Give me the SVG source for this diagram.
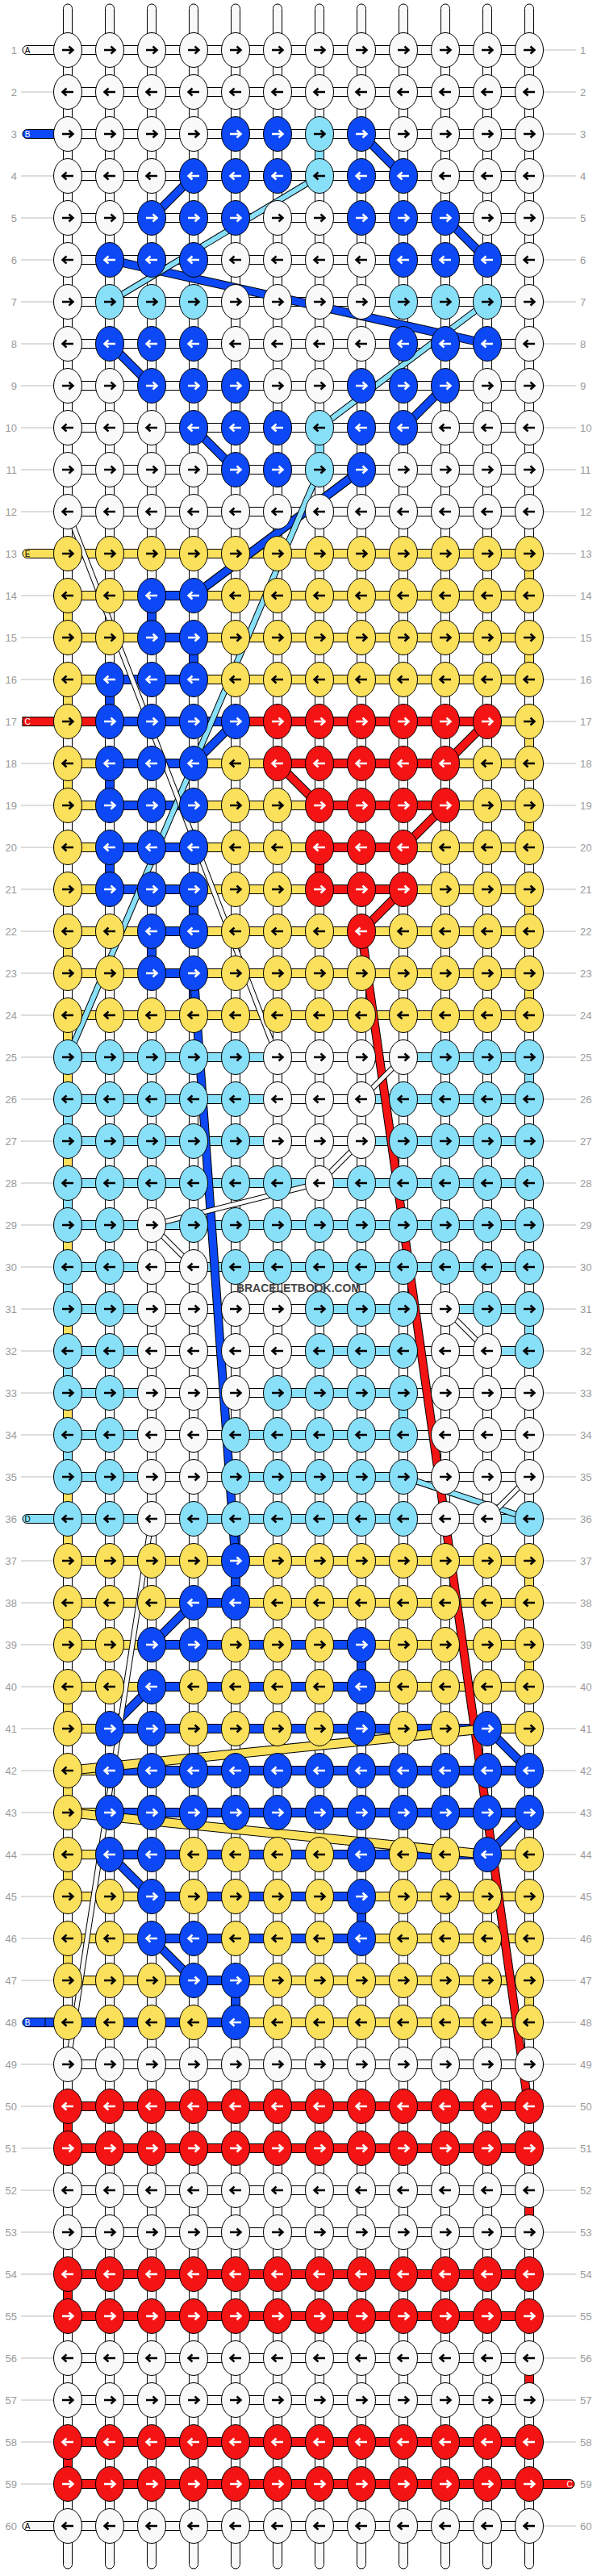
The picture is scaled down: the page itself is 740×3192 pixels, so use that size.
<svg xmlns="http://www.w3.org/2000/svg" width="740" height="3192" viewBox="0 0 740 3192">
<defs>
<style>
.W{fill:#f9f9f9}.B{fill:#0c48f5}.L{fill:#88dff8}.Y{fill:#fbe05c}.R{fill:#f41414}
.arr{fill:none;stroke-width:2.5}
.num{font-family:"Liberation Sans",Arial,sans-serif;font-size:13px;fill:#9a9a9a}
.gl{stroke:#bbb;stroke-width:1;fill:none}
.cap{font-family:"Liberation Sans",Arial,sans-serif;font-size:10px;text-anchor:middle}
.ln{fill:none;stroke-linecap:butt}
</style>
<path id="ar" class="arr" d="M-7,0H6M1.5,-4.5L6.5,0L1.5,4.5"/>
<path id="al" class="arr" d="M7,0H-6M-1.5,-4.5L-6.5,0L-1.5,4.5"/>
<ellipse id="e" rx="17.5" ry="21.5" stroke="#000" stroke-width="1"/>
<rect id="full" x="84" y="-5.5" width="572" height="11" stroke="#000" stroke-width="1"/>
<g id="Wr"><use href="#e" class="W"/><use href="#ar" stroke="#000"/></g>
<g id="Wl"><use href="#e" class="W"/><use href="#al" stroke="#000"/></g>
<g id="Br"><use href="#e" class="B"/><use href="#ar" stroke="#fff"/></g>
<g id="Bl"><use href="#e" class="B"/><use href="#al" stroke="#fff"/></g>
<g id="Lr"><use href="#e" class="L"/><use href="#ar" stroke="#000"/></g>
<g id="Ll"><use href="#e" class="L"/><use href="#al" stroke="#000"/></g>
<g id="Yr"><use href="#e" class="Y"/><use href="#ar" stroke="#000"/></g>
<g id="Yl"><use href="#e" class="Y"/><use href="#al" stroke="#000"/></g>
<g id="Rr"><use href="#e" class="R"/><use href="#ar" stroke="#fff"/></g>
<g id="Rl"><use href="#e" class="R"/><use href="#al" stroke="#fff"/></g>
<g id="pB">
<path d="M448,166L500,218M240,218L188,270M552,270L604,322M136,322L604,426M136,426L188,478M552,478L500,530M240,530L292,582M448,582L240,738M292,894L240,946M240,1206L292,1934M240,1986L188,2038M188,2090L136,2142M604,2142L656,2194M656,2246L604,2298M136,2298L188,2350M188,2402L240,2454"/>
</g>
<g id="pL"><path d="M396,218L136,374M604,374L396,530M396,582L84,1310M500,1830L656,1882"/></g>
<g id="pR"><path d="M604,894L552,946M344,946L396,998M552,998L500,1050M500,1102L448,1154M448,1154L655,2610"/></g>
<g id="pW"><path d="M84,634L344,1310M500,1310L448,1362M448,1414L396,1466M396,1466L188,1518M188,1518L240,1570M552,1622L604,1674M656,1830L604,1882M188,1882L84,2558"/></g>
<g id="pY"><path d="M604,2142L84,2194M84,2246L604,2298"/></g>
</defs>
<rect width="740" height="3192" fill="#fff"/>
<g id="labels">
<path class="gl" d="M26,114h40M26,218h40M26,270h40M26,322h40M26,374h40M26,426h40M26,478h40M26,530h40M26,582h40M26,634h40M26,738h40M26,790h40M26,842h40M26,946h40M26,998h40M26,1050h40M26,1102h40M26,1154h40M26,1206h40M26,1258h40M26,1310h40M26,1362h40M26,1414h40M26,1466h40M26,1518h40M26,1570h40M26,1622h40M26,1674h40M26,1726h40M26,1778h40M26,1830h40M26,1934h40M26,1986h40M26,2038h40M26,2090h40M26,2142h40M26,2194h40M26,2246h40M26,2298h40M26,2350h40M26,2402h40M26,2454h40M26,2558h40M26,2610h40M26,2662h40M26,2714h40M26,2766h40M26,2818h40M26,2870h40M26,2922h40M26,2974h40M26,3026h40M26,3078h40"/>
<path class="gl" d="M674,62h40M674,114h40M674,166h40M674,218h40M674,270h40M674,322h40M674,374h40M674,426h40M674,478h40M674,530h40M674,582h40M674,634h40M674,686h40M674,738h40M674,790h40M674,842h40M674,894h40M674,946h40M674,998h40M674,1050h40M674,1102h40M674,1154h40M674,1206h40M674,1258h40M674,1310h40M674,1362h40M674,1414h40M674,1466h40M674,1518h40M674,1570h40M674,1622h40M674,1674h40M674,1726h40M674,1778h40M674,1830h40M674,1882h40M674,1934h40M674,1986h40M674,2038h40M674,2090h40M674,2142h40M674,2194h40M674,2246h40M674,2298h40M674,2350h40M674,2402h40M674,2454h40M674,2506h40M674,2558h40M674,2610h40M674,2662h40M674,2714h40M674,2766h40M674,2818h40M674,2870h40M674,2922h40M674,2974h40M674,3026h40M674,3130h40"/>
<g class="num" text-anchor="end">
<text x="21" y="67">1</text><text x="21" y="119">2</text><text x="21" y="171">3</text><text x="21" y="223">4</text><text x="21" y="275">5</text><text x="21" y="327">6</text><text x="21" y="379">7</text><text x="21" y="431">8</text><text x="21" y="483">9</text><text x="21" y="535">10</text>
<text x="21" y="587">11</text><text x="21" y="639">12</text><text x="21" y="691">13</text><text x="21" y="743">14</text><text x="21" y="795">15</text><text x="21" y="847">16</text><text x="21" y="899">17</text><text x="21" y="951">18</text><text x="21" y="1003">19</text><text x="21" y="1055">20</text>
<text x="21" y="1107">21</text><text x="21" y="1159">22</text><text x="21" y="1211">23</text><text x="21" y="1263">24</text><text x="21" y="1315">25</text><text x="21" y="1367">26</text><text x="21" y="1419">27</text><text x="21" y="1471">28</text><text x="21" y="1523">29</text><text x="21" y="1575">30</text>
<text x="21" y="1627">31</text><text x="21" y="1679">32</text><text x="21" y="1731">33</text><text x="21" y="1783">34</text><text x="21" y="1835">35</text><text x="21" y="1887">36</text><text x="21" y="1939">37</text><text x="21" y="1991">38</text><text x="21" y="2043">39</text><text x="21" y="2095">40</text>
<text x="21" y="2147">41</text><text x="21" y="2199">42</text><text x="21" y="2251">43</text><text x="21" y="2303">44</text><text x="21" y="2355">45</text><text x="21" y="2407">46</text><text x="21" y="2459">47</text><text x="21" y="2511">48</text><text x="21" y="2563">49</text><text x="21" y="2615">50</text>
<text x="21" y="2667">51</text><text x="21" y="2719">52</text><text x="21" y="2771">53</text><text x="21" y="2823">54</text><text x="21" y="2875">55</text><text x="21" y="2927">56</text><text x="21" y="2979">57</text><text x="21" y="3031">58</text><text x="21" y="3083">59</text><text x="21" y="3135">60</text>
</g>
<g class="num">
<text x="719" y="67">1</text><text x="719" y="119">2</text><text x="719" y="171">3</text><text x="719" y="223">4</text><text x="719" y="275">5</text><text x="719" y="327">6</text><text x="719" y="379">7</text><text x="719" y="431">8</text><text x="719" y="483">9</text><text x="719" y="535">10</text>
<text x="719" y="587">11</text><text x="719" y="639">12</text><text x="719" y="691">13</text><text x="719" y="743">14</text><text x="719" y="795">15</text><text x="719" y="847">16</text><text x="719" y="899">17</text><text x="719" y="951">18</text><text x="719" y="1003">19</text><text x="719" y="1055">20</text>
<text x="719" y="1107">21</text><text x="719" y="1159">22</text><text x="719" y="1211">23</text><text x="719" y="1263">24</text><text x="719" y="1315">25</text><text x="719" y="1367">26</text><text x="719" y="1419">27</text><text x="719" y="1471">28</text><text x="719" y="1523">29</text><text x="719" y="1575">30</text>
<text x="719" y="1627">31</text><text x="719" y="1679">32</text><text x="719" y="1731">33</text><text x="719" y="1783">34</text><text x="719" y="1835">35</text><text x="719" y="1887">36</text><text x="719" y="1939">37</text><text x="719" y="1991">38</text><text x="719" y="2043">39</text><text x="719" y="2095">40</text>
<text x="719" y="2147">41</text><text x="719" y="2199">42</text><text x="719" y="2251">43</text><text x="719" y="2303">44</text><text x="719" y="2355">45</text><text x="719" y="2407">46</text><text x="719" y="2459">47</text><text x="719" y="2511">48</text><text x="719" y="2563">49</text><text x="719" y="2615">50</text>
<text x="719" y="2667">51</text><text x="719" y="2719">52</text><text x="719" y="2771">53</text><text x="719" y="2823">54</text><text x="719" y="2875">55</text><text x="719" y="2927">56</text><text x="719" y="2979">57</text><text x="719" y="3031">58</text><text x="719" y="3083">59</text><text x="719" y="3135">60</text>
</g>
</g>
<g id="warps" stroke="#000" stroke-width="1">
<rect class="W" x="78.5" y="5" width="11" height="3178" rx="5.5"/><rect class="W" x="130.5" y="5" width="11" height="3178" rx="5.5"/><rect class="W" x="182.5" y="5" width="11" height="3178" rx="5.5"/><rect class="W" x="234.5" y="5" width="11" height="3178" rx="5.5"/><rect class="W" x="286.5" y="5" width="11" height="3178" rx="5.5"/><rect class="W" x="338.5" y="5" width="11" height="3178" rx="5.5"/><rect class="W" x="390.5" y="5" width="11" height="3178" rx="5.5"/><rect class="W" x="442.5" y="5" width="11" height="3178" rx="5.5"/><rect class="W" x="494.5" y="5" width="11" height="3178" rx="5.5"/><rect class="W" x="546.5" y="5" width="11" height="3178" rx="5.5"/><rect class="W" x="598.5" y="5" width="11" height="3178" rx="5.5"/><rect class="W" x="650.5" y="5" width="11" height="3178" rx="5.5"/>
<g>
<rect class="L" x="390.5" y="166" width="11" height="52"/><rect class="L" x="390.5" y="530" width="11" height="52"/>
<rect class="Y" x="650.5" y="686" width="11" height="52"/><rect class="Y" x="78.5" y="738" width="11" height="52"/><rect class="B" x="182.5" y="738" width="11" height="52"/><rect class="B" x="234.5" y="790" width="11" height="52"/><rect class="Y" x="650.5" y="790" width="11" height="52"/>
<rect class="Y" x="78.5" y="842" width="11" height="52"/><rect class="B" x="130.5" y="842" width="11" height="52"/><rect class="Y" x="650.5" y="894" width="11" height="52"/><rect class="Y" x="78.5" y="946" width="11" height="52"/><rect class="B" x="130.5" y="946" width="11" height="52"/><rect class="Y" x="650.5" y="998" width="11" height="52"/>
<rect class="B" x="130.5" y="1050" width="11" height="52"/><rect class="R" x="390.5" y="1050" width="11" height="52"/><rect class="B" x="234.5" y="1102" width="11" height="52"/><rect class="Y" x="650.5" y="1102" width="11" height="52"/><rect class="Y" x="78.5" y="1154" width="11" height="52"/><rect class="B" x="182.5" y="1154" width="11" height="52"/>
<rect class="B" x="234.5" y="1206" width="11" height="52"/><rect class="Y" x="650.5" y="1206" width="11" height="52"/><rect class="Y" x="78.5" y="1258" width="11" height="52"/><rect class="Y" x="78.5" y="1310" width="11" height="52"/><rect class="L" x="650.5" y="1310" width="11" height="52"/>
<rect class="L" x="78.5" y="1362" width="11" height="52"/><rect class="Y" x="78.5" y="1414" width="11" height="52"/><rect class="L" x="78.5" y="1466" width="11" height="52"/><rect class="Y" x="78.5" y="1518" width="11" height="52"/><rect class="L" x="78.5" y="1570" width="11" height="52"/>
<rect class="Y" x="78.5" y="1622" width="11" height="52"/><rect class="L" x="650.5" y="1622" width="11" height="52"/><rect class="L" x="78.5" y="1674" width="11" height="52"/><rect class="Y" x="78.5" y="1726" width="11" height="52"/><rect class="L" x="494.5" y="1726" width="11" height="52"/><rect class="L" x="78.5" y="1778" width="11" height="52"/>
<rect class="Y" x="78.5" y="1830" width="11" height="52"/><rect class="Y" x="78.5" y="1882" width="11" height="52"/><rect class="B" x="286.5" y="1882" width="11" height="52"/><rect class="B" x="286.5" y="1934" width="11" height="52"/><rect class="Y" x="650.5" y="1934" width="11" height="52"/>
<rect class="Y" x="78.5" y="1986" width="11" height="52"/><rect class="B" x="442.5" y="2038" width="11" height="52"/><rect class="Y" x="650.5" y="2038" width="11" height="52"/><rect class="Y" x="78.5" y="2090" width="11" height="52"/><rect class="Y" x="78.5" y="2194" width="11" height="52"/>
<rect class="Y" x="78.5" y="2298" width="11" height="52"/><rect class="B" x="442.5" y="2350" width="11" height="52"/><rect class="Y" x="78.5" y="2402" width="11" height="52"/><rect class="B" x="286.5" y="2454" width="11" height="52"/><rect class="Y" x="650.5" y="2454" width="11" height="52"/>
<rect class="R" x="78.5" y="2610" width="11" height="52"/><rect class="R" x="650.5" y="2714" width="11" height="52"/><rect class="R" x="78.5" y="2818" width="11" height="52"/><rect class="R" x="650.5" y="2922" width="11" height="52"/><rect class="R" x="78.5" y="3026" width="11" height="52"/>
</g>
</g>
<g id="starts" stroke="#000" stroke-width="1">
<rect class="W" x="28" y="56.5" width="60" height="11" rx="5.5"/>
<rect class="B" x="28" y="160.5" width="60" height="11" rx="5.5"/>
<rect class="Y" x="28" y="680.5" width="60" height="11" rx="5.5"/>
<rect class="R" x="28" y="888.5" width="60" height="11" rx="5.5"/>
<rect class="L" x="28" y="1876.5" width="60" height="11" rx="5.5"/>
<rect class="B" x="28" y="2500.5" width="60" height="11" rx="5.5"/>
<rect class="W" x="28" y="3124.5" width="60" height="11" rx="5.5"/>
<rect class="R" x="652" y="3072.5" width="60" height="11" rx="5.5"/>
</g>
<g id="bars" stroke="#000" stroke-width="1">
<use href="#full" class="W" y="62"/><use href="#full" class="W" y="114"/><use href="#full" class="W" y="166"/><use href="#full" class="W" y="218"/><use href="#full" class="W" y="270"/><use href="#full" class="W" y="322"/><use href="#full" class="W" y="374"/><use href="#full" class="W" y="426"/><use href="#full" class="W" y="478"/><use href="#full" class="W" y="530"/><use href="#full" class="W" y="582"/><use href="#full" class="W" y="634"/>
<use href="#full" class="Y" y="686"/>
<rect class="Y" x="84" y="732.5" width="104" height="11"/><rect class="B" x="188" y="732.5" width="52" height="11"/><rect class="Y" x="240" y="732.5" width="416" height="11"/>
<rect class="Y" x="84" y="784.5" width="104" height="11"/><rect class="B" x="188" y="784.5" width="52" height="11"/><rect class="Y" x="240" y="784.5" width="416" height="11"/>
<rect class="Y" x="84" y="836.5" width="52" height="11"/><rect class="B" x="136" y="836.5" width="104" height="11"/><rect class="Y" x="240" y="836.5" width="416" height="11"/>
<rect class="R" x="28" y="888.5" width="108" height="11"/><rect class="B" x="136" y="888.5" width="156" height="11"/><rect class="R" x="292" y="888.5" width="312" height="11"/><rect class="Y" x="604" y="888.5" width="52" height="11"/>
<rect class="Y" x="84" y="940.5" width="52" height="11"/><rect class="B" x="136" y="940.5" width="104" height="11"/><rect class="Y" x="240" y="940.5" width="104" height="11"/><rect class="R" x="344" y="940.5" width="208" height="11"/><rect class="Y" x="552" y="940.5" width="104" height="11"/>
<rect class="Y" x="84" y="992.5" width="52" height="11"/><rect class="B" x="136" y="992.5" width="104" height="11"/><rect class="Y" x="240" y="992.5" width="156" height="11"/><rect class="R" x="396" y="992.5" width="156" height="11"/><rect class="Y" x="552" y="992.5" width="104" height="11"/>
<rect class="Y" x="84" y="1044.5" width="52" height="11"/><rect class="B" x="136" y="1044.5" width="104" height="11"/><rect class="Y" x="240" y="1044.5" width="156" height="11"/><rect class="R" x="396" y="1044.5" width="104" height="11"/><rect class="Y" x="500" y="1044.5" width="156" height="11"/>
<rect class="Y" x="84" y="1096.5" width="52" height="11"/><rect class="B" x="136" y="1096.5" width="104" height="11"/><rect class="Y" x="240" y="1096.5" width="156" height="11"/><rect class="R" x="396" y="1096.5" width="104" height="11"/><rect class="Y" x="500" y="1096.5" width="156" height="11"/>
<rect class="Y" x="84" y="1148.5" width="104" height="11"/><rect class="B" x="188" y="1148.5" width="52" height="11"/><rect class="Y" x="240" y="1148.5" width="416" height="11"/>
<rect class="Y" x="84" y="1200.5" width="104" height="11"/><rect class="B" x="188" y="1200.5" width="52" height="11"/><rect class="Y" x="240" y="1200.5" width="416" height="11"/>
<use href="#full" class="Y" y="1258"/>
<rect class="L" x="84" y="1304.5" width="260" height="11"/><rect class="W" x="344" y="1304.5" width="156" height="11"/><rect class="L" x="500" y="1304.5" width="156" height="11"/>
<rect class="L" x="84" y="1356.5" width="260" height="11"/><rect class="W" x="344" y="1356.5" width="104" height="11"/><rect class="L" x="448" y="1356.5" width="208" height="11"/>
<rect class="L" x="84" y="1408.5" width="260" height="11"/><rect class="W" x="344" y="1408.5" width="104" height="11"/><rect class="L" x="448" y="1408.5" width="208" height="11"/>
<use href="#full" class="L" y="1466"/><use href="#full" class="L" y="1518"/>
<rect class="L" x="84" y="1564.5" width="104" height="11"/><rect class="W" x="188" y="1564.5" width="52" height="11"/><rect class="L" x="240" y="1564.5" width="416" height="11"/>
<rect class="L" x="84" y="1616.5" width="104" height="11"/><rect class="W" x="188" y="1616.5" width="208" height="11"/><rect class="L" x="396" y="1616.5" width="104" height="11"/><rect class="W" x="500" y="1616.5" width="52" height="11"/><rect class="L" x="552" y="1616.5" width="104" height="11"/>
<rect class="L" x="84" y="1668.5" width="104" height="11"/><rect class="W" x="188" y="1668.5" width="208" height="11"/><rect class="L" x="396" y="1668.5" width="104" height="11"/><rect class="W" x="500" y="1668.5" width="104" height="11"/><rect class="L" x="604" y="1668.5" width="52" height="11"/>
<rect class="L" x="84" y="1720.5" width="104" height="11"/><rect class="W" x="188" y="1720.5" width="156" height="11"/><rect class="L" x="344" y="1720.5" width="156" height="11"/><rect class="W" x="500" y="1720.5" width="156" height="11"/>
<rect class="L" x="84" y="1772.5" width="104" height="11"/><rect class="W" x="188" y="1772.5" width="104" height="11"/><rect class="L" x="292" y="1772.5" width="208" height="11"/><rect class="W" x="500" y="1772.5" width="156" height="11"/>
<rect class="L" x="84" y="1824.5" width="104" height="11"/><rect class="W" x="188" y="1824.5" width="104" height="11"/><rect class="L" x="292" y="1824.5" width="208" height="11"/><rect class="W" x="500" y="1824.5" width="156" height="11"/>
<rect class="L" x="84" y="1876.5" width="104" height="11"/><rect class="W" x="188" y="1876.5" width="52" height="11"/><rect class="L" x="240" y="1876.5" width="260" height="11"/><rect class="W" x="500" y="1876.5" width="104" height="11"/><rect class="L" x="604" y="1876.5" width="52" height="11"/>
<use href="#full" class="Y" y="1934"/>
<rect class="Y" x="84" y="1980.5" width="156" height="11"/><rect class="B" x="240" y="1980.5" width="52" height="11"/><rect class="Y" x="292" y="1980.5" width="364" height="11"/>
<rect class="Y" x="84" y="2032.5" width="104" height="11"/><rect class="B" x="188" y="2032.5" width="260" height="11"/><rect class="Y" x="448" y="2032.5" width="208" height="11"/>
<rect class="Y" x="84" y="2084.5" width="104" height="11"/><rect class="B" x="188" y="2084.5" width="260" height="11"/><rect class="Y" x="448" y="2084.5" width="208" height="11"/>
<rect class="Y" x="84" y="2136.5" width="52" height="11"/><rect class="B" x="136" y="2136.5" width="468" height="11"/><rect class="Y" x="604" y="2136.5" width="52" height="11"/>
<rect class="Y" x="84" y="2188.5" width="52" height="11"/><rect class="B" x="136" y="2188.5" width="520" height="11"/>
<rect class="Y" x="84" y="2240.5" width="52" height="11"/><rect class="B" x="136" y="2240.5" width="520" height="11"/>
<rect class="Y" x="84" y="2292.5" width="52" height="11"/><rect class="B" x="136" y="2292.5" width="468" height="11"/><rect class="Y" x="604" y="2292.5" width="52" height="11"/>
<rect class="Y" x="84" y="2344.5" width="104" height="11"/><rect class="B" x="188" y="2344.5" width="260" height="11"/><rect class="Y" x="448" y="2344.5" width="208" height="11"/>
<rect class="Y" x="84" y="2396.5" width="104" height="11"/><rect class="B" x="188" y="2396.5" width="260" height="11"/><rect class="Y" x="448" y="2396.5" width="208" height="11"/>
<rect class="Y" x="84" y="2448.5" width="156" height="11"/><rect class="B" x="240" y="2448.5" width="52" height="11"/><rect class="Y" x="292" y="2448.5" width="364" height="11"/>
<rect class="B" x="56" y="2500.5" width="236" height="11"/><rect class="Y" x="292" y="2500.5" width="364" height="11"/>
<use href="#full" class="W" y="2558"/><use href="#full" class="R" y="2610"/><use href="#full" class="R" y="2662"/><use href="#full" class="W" y="2714"/><use href="#full" class="W" y="2766"/><use href="#full" class="R" y="2818"/><use href="#full" class="R" y="2870"/><use href="#full" class="W" y="2922"/><use href="#full" class="W" y="2974"/><use href="#full" class="R" y="3026"/><use href="#full" class="R" y="3078"/><use href="#full" class="W" y="3130"/>
</g>
<g id="startLetters" class="cap">
<text x="34" y="65.5" fill="#000">A</text>
<text x="34" y="169.5" fill="#fff">B</text>
<text x="34" y="689.5" fill="#000">E</text>
<text x="34" y="897.5" fill="#fff">C</text>
<text x="34" y="1885.5" fill="#000">D</text>
<text x="34" y="2509.5" fill="#fff">B</text>
<text x="34" y="3133.5" fill="#000">A</text>
<text x="706" y="3081.5" fill="#fff">C</text>
</g>
<g id="connectors" class="ln">
<use href="#pB" stroke="#000" stroke-width="11"/><use href="#pB" stroke="#0c48f5" stroke-width="9"/>
<use href="#pL" stroke="#000" stroke-width="8"/><use href="#pL" stroke="#88dff8" stroke-width="6"/>
<use href="#pR" stroke="#000" stroke-width="11"/><use href="#pR" stroke="#f41414" stroke-width="9"/>
<use href="#pW" stroke="#000" stroke-width="7"/><use href="#pW" stroke="#f9f9f9" stroke-width="5"/>
<use href="#pY" stroke="#000" stroke-width="12"/><use href="#pY" stroke="#fbe05c" stroke-width="10"/>
</g>
<g id="knots">
<g transform="translate(0,62)"><g id="k1-1"><use href="#Wr" x="84"/></g><g id="k1-2"><use href="#Wr" x="136"/></g><g id="k1-3"><use href="#Wr" x="188"/></g><g id="k1-4"><use href="#Wr" x="240"/></g><g id="k1-5"><use href="#Wr" x="292"/></g><g id="k1-6"><use href="#Wr" x="344"/></g><g id="k1-7"><use href="#Wr" x="396"/></g><g id="k1-8"><use href="#Wr" x="448"/></g><g id="k1-9"><use href="#Wr" x="500"/></g><g id="k1-10"><use href="#Wr" x="552"/></g><g id="k1-11"><use href="#Wr" x="604"/></g><g id="k1-12"><use href="#Wr" x="656"/></g></g>
<g transform="translate(0,114)"><g id="k2-1"><use href="#Wl" x="84"/></g><g id="k2-2"><use href="#Wl" x="136"/></g><g id="k2-3"><use href="#Wl" x="188"/></g><g id="k2-4"><use href="#Wl" x="240"/></g><g id="k2-5"><use href="#Wl" x="292"/></g><g id="k2-6"><use href="#Wl" x="344"/></g><g id="k2-7"><use href="#Wl" x="396"/></g><g id="k2-8"><use href="#Wl" x="448"/></g><g id="k2-9"><use href="#Wl" x="500"/></g><g id="k2-10"><use href="#Wl" x="552"/></g><g id="k2-11"><use href="#Wl" x="604"/></g><g id="k2-12"><use href="#Wl" x="656"/></g></g>
<g transform="translate(0,166)"><g id="k3-1"><use href="#Wr" x="84"/></g><g id="k3-2"><use href="#Wr" x="136"/></g><g id="k3-3"><use href="#Wr" x="188"/></g><g id="k3-4"><use href="#Wr" x="240"/></g><g id="k3-5"><use href="#Br" x="292"/></g><g id="k3-6"><use href="#Br" x="344"/></g><g id="k3-7"><use href="#Lr" x="396"/></g><g id="k3-8"><use href="#Br" x="448"/></g><g id="k3-9"><use href="#Wr" x="500"/></g><g id="k3-10"><use href="#Wr" x="552"/></g><g id="k3-11"><use href="#Wr" x="604"/></g><g id="k3-12"><use href="#Wr" x="656"/></g></g>
<g transform="translate(0,218)"><g id="k4-1"><use href="#Wl" x="84"/></g><g id="k4-2"><use href="#Wl" x="136"/></g><g id="k4-3"><use href="#Wl" x="188"/></g><g id="k4-4"><use href="#Bl" x="240"/></g><g id="k4-5"><use href="#Bl" x="292"/></g><g id="k4-6"><use href="#Bl" x="344"/></g><g id="k4-7"><use href="#Ll" x="396"/></g><g id="k4-8"><use href="#Bl" x="448"/></g><g id="k4-9"><use href="#Bl" x="500"/></g><g id="k4-10"><use href="#Wl" x="552"/></g><g id="k4-11"><use href="#Wl" x="604"/></g><g id="k4-12"><use href="#Wl" x="656"/></g></g>
<g transform="translate(0,270)"><g id="k5-1"><use href="#Wr" x="84"/></g><g id="k5-2"><use href="#Wr" x="136"/></g><g id="k5-3"><use href="#Br" x="188"/></g><g id="k5-4"><use href="#Br" x="240"/></g><g id="k5-5"><use href="#Br" x="292"/></g><g id="k5-6"><use href="#Wr" x="344"/></g><g id="k5-7"><use href="#Wr" x="396"/></g><g id="k5-8"><use href="#Br" x="448"/></g><g id="k5-9"><use href="#Br" x="500"/></g><g id="k5-10"><use href="#Br" x="552"/></g><g id="k5-11"><use href="#Wr" x="604"/></g><g id="k5-12"><use href="#Wr" x="656"/></g></g>
<g transform="translate(0,322)"><g id="k6-1"><use href="#Wl" x="84"/></g><g id="k6-2"><use href="#Bl" x="136"/></g><g id="k6-3"><use href="#Bl" x="188"/></g><g id="k6-4"><use href="#Bl" x="240"/></g><g id="k6-5"><use href="#Wl" x="292"/></g><g id="k6-6"><use href="#Wl" x="344"/></g><g id="k6-7"><use href="#Wl" x="396"/></g><g id="k6-8"><use href="#Wl" x="448"/></g><g id="k6-9"><use href="#Bl" x="500"/></g><g id="k6-10"><use href="#Bl" x="552"/></g><g id="k6-11"><use href="#Bl" x="604"/></g><g id="k6-12"><use href="#Wl" x="656"/></g></g>
<g transform="translate(0,374)"><g id="k7-1"><use href="#Wr" x="84"/></g><g id="k7-2"><use href="#Lr" x="136"/></g><g id="k7-3"><use href="#Lr" x="188"/></g><g id="k7-4"><use href="#Lr" x="240"/></g><g id="k7-5"><use href="#Wr" x="292"/></g><g id="k7-6"><use href="#Wr" x="344"/></g><g id="k7-7"><use href="#Wr" x="396"/></g><g id="k7-8"><use href="#Wr" x="448"/></g><g id="k7-9"><use href="#Lr" x="500"/></g><g id="k7-10"><use href="#Lr" x="552"/></g><g id="k7-11"><use href="#Lr" x="604"/></g><g id="k7-12"><use href="#Wr" x="656"/></g></g>
<g transform="translate(0,426)"><g id="k8-1"><use href="#Wl" x="84"/></g><g id="k8-2"><use href="#Bl" x="136"/></g><g id="k8-3"><use href="#Bl" x="188"/></g><g id="k8-4"><use href="#Bl" x="240"/></g><g id="k8-5"><use href="#Wl" x="292"/></g><g id="k8-6"><use href="#Wl" x="344"/></g><g id="k8-7"><use href="#Wl" x="396"/></g><g id="k8-8"><use href="#Wl" x="448"/></g><g id="k8-9"><use href="#Bl" x="500"/></g><g id="k8-10"><use href="#Bl" x="552"/></g><g id="k8-11"><use href="#Bl" x="604"/></g><g id="k8-12"><use href="#Wl" x="656"/></g></g>
<g transform="translate(0,478)"><g id="k9-1"><use href="#Wr" x="84"/></g><g id="k9-2"><use href="#Wr" x="136"/></g><g id="k9-3"><use href="#Br" x="188"/></g><g id="k9-4"><use href="#Br" x="240"/></g><g id="k9-5"><use href="#Br" x="292"/></g><g id="k9-6"><use href="#Wr" x="344"/></g><g id="k9-7"><use href="#Wr" x="396"/></g><g id="k9-8"><use href="#Br" x="448"/></g><g id="k9-9"><use href="#Br" x="500"/></g><g id="k9-10"><use href="#Br" x="552"/></g><g id="k9-11"><use href="#Wr" x="604"/></g><g id="k9-12"><use href="#Wr" x="656"/></g></g>
<g transform="translate(0,530)"><g id="k10-1"><use href="#Wl" x="84"/></g><g id="k10-2"><use href="#Wl" x="136"/></g><g id="k10-3"><use href="#Wl" x="188"/></g><g id="k10-4"><use href="#Bl" x="240"/></g><g id="k10-5"><use href="#Bl" x="292"/></g><g id="k10-6"><use href="#Bl" x="344"/></g><g id="k10-7"><use href="#Ll" x="396"/></g><g id="k10-8"><use href="#Bl" x="448"/></g><g id="k10-9"><use href="#Bl" x="500"/></g><g id="k10-10"><use href="#Wl" x="552"/></g><g id="k10-11"><use href="#Wl" x="604"/></g><g id="k10-12"><use href="#Wl" x="656"/></g></g>
<g transform="translate(0,582)"><g id="k11-1"><use href="#Wr" x="84"/></g><g id="k11-2"><use href="#Wr" x="136"/></g><g id="k11-3"><use href="#Wr" x="188"/></g><g id="k11-4"><use href="#Wr" x="240"/></g><g id="k11-5"><use href="#Br" x="292"/></g><g id="k11-6"><use href="#Br" x="344"/></g><g id="k11-7"><use href="#Lr" x="396"/></g><g id="k11-8"><use href="#Br" x="448"/></g><g id="k11-9"><use href="#Wr" x="500"/></g><g id="k11-10"><use href="#Wr" x="552"/></g><g id="k11-11"><use href="#Wr" x="604"/></g><g id="k11-12"><use href="#Wr" x="656"/></g></g>
<g transform="translate(0,634)"><g id="k12-1"><use href="#Wl" x="84"/></g><g id="k12-2"><use href="#Wl" x="136"/></g><g id="k12-3"><use href="#Wl" x="188"/></g><g id="k12-4"><use href="#Wl" x="240"/></g><g id="k12-5"><use href="#Wl" x="292"/></g><g id="k12-6"><use href="#Wl" x="344"/></g><g id="k12-7"><use href="#Wl" x="396"/></g><g id="k12-8"><use href="#Wl" x="448"/></g><g id="k12-9"><use href="#Wl" x="500"/></g><g id="k12-10"><use href="#Wl" x="552"/></g><g id="k12-11"><use href="#Wl" x="604"/></g><g id="k12-12"><use href="#Wl" x="656"/></g></g>
<g transform="translate(0,686)"><g id="k13-1"><use href="#Yr" x="84"/></g><g id="k13-2"><use href="#Yr" x="136"/></g><g id="k13-3"><use href="#Yr" x="188"/></g><g id="k13-4"><use href="#Yr" x="240"/></g><g id="k13-5"><use href="#Yr" x="292"/></g><g id="k13-6"><use href="#Yr" x="344"/></g><g id="k13-7"><use href="#Yr" x="396"/></g><g id="k13-8"><use href="#Yr" x="448"/></g><g id="k13-9"><use href="#Yr" x="500"/></g><g id="k13-10"><use href="#Yr" x="552"/></g><g id="k13-11"><use href="#Yr" x="604"/></g><g id="k13-12"><use href="#Yr" x="656"/></g></g>
<g transform="translate(0,738)"><g id="k14-1"><use href="#Yl" x="84"/></g><g id="k14-2"><use href="#Yl" x="136"/></g><g id="k14-3"><use href="#Bl" x="188"/></g><g id="k14-4"><use href="#Bl" x="240"/></g><g id="k14-5"><use href="#Yl" x="292"/></g><g id="k14-6"><use href="#Yl" x="344"/></g><g id="k14-7"><use href="#Yl" x="396"/></g><g id="k14-8"><use href="#Yl" x="448"/></g><g id="k14-9"><use href="#Yl" x="500"/></g><g id="k14-10"><use href="#Yl" x="552"/></g><g id="k14-11"><use href="#Yl" x="604"/></g><g id="k14-12"><use href="#Yl" x="656"/></g></g>
<g transform="translate(0,790)"><g id="k15-1"><use href="#Yr" x="84"/></g><g id="k15-2"><use href="#Yr" x="136"/></g><g id="k15-3"><use href="#Br" x="188"/></g><g id="k15-4"><use href="#Br" x="240"/></g><g id="k15-5"><use href="#Yr" x="292"/></g><g id="k15-6"><use href="#Yr" x="344"/></g><g id="k15-7"><use href="#Yr" x="396"/></g><g id="k15-8"><use href="#Yr" x="448"/></g><g id="k15-9"><use href="#Yr" x="500"/></g><g id="k15-10"><use href="#Yr" x="552"/></g><g id="k15-11"><use href="#Yr" x="604"/></g><g id="k15-12"><use href="#Yr" x="656"/></g></g>
<g transform="translate(0,842)"><g id="k16-1"><use href="#Yl" x="84"/></g><g id="k16-2"><use href="#Bl" x="136"/></g><g id="k16-3"><use href="#Bl" x="188"/></g><g id="k16-4"><use href="#Bl" x="240"/></g><g id="k16-5"><use href="#Yl" x="292"/></g><g id="k16-6"><use href="#Yl" x="344"/></g><g id="k16-7"><use href="#Yl" x="396"/></g><g id="k16-8"><use href="#Yl" x="448"/></g><g id="k16-9"><use href="#Yl" x="500"/></g><g id="k16-10"><use href="#Yl" x="552"/></g><g id="k16-11"><use href="#Yl" x="604"/></g><g id="k16-12"><use href="#Yl" x="656"/></g></g>
<g transform="translate(0,894)"><g id="k17-1"><use href="#Yr" x="84"/></g><g id="k17-2"><use href="#Br" x="136"/></g><g id="k17-3"><use href="#Br" x="188"/></g><g id="k17-4"><use href="#Br" x="240"/></g><g id="k17-5"><use href="#Br" x="292"/></g><g id="k17-6"><use href="#Rr" x="344"/></g><g id="k17-7"><use href="#Rr" x="396"/></g><g id="k17-8"><use href="#Rr" x="448"/></g><g id="k17-9"><use href="#Rr" x="500"/></g><g id="k17-10"><use href="#Rr" x="552"/></g><g id="k17-11"><use href="#Rr" x="604"/></g><g id="k17-12"><use href="#Yr" x="656"/></g></g>
<g transform="translate(0,946)"><g id="k18-1"><use href="#Yl" x="84"/></g><g id="k18-2"><use href="#Bl" x="136"/></g><g id="k18-3"><use href="#Bl" x="188"/></g><g id="k18-4"><use href="#Bl" x="240"/></g><g id="k18-5"><use href="#Yl" x="292"/></g><g id="k18-6"><use href="#Rl" x="344"/></g><g id="k18-7"><use href="#Rl" x="396"/></g><g id="k18-8"><use href="#Rl" x="448"/></g><g id="k18-9"><use href="#Rl" x="500"/></g><g id="k18-10"><use href="#Rl" x="552"/></g><g id="k18-11"><use href="#Yl" x="604"/></g><g id="k18-12"><use href="#Yl" x="656"/></g></g>
<g transform="translate(0,998)"><g id="k19-1"><use href="#Yr" x="84"/></g><g id="k19-2"><use href="#Br" x="136"/></g><g id="k19-3"><use href="#Br" x="188"/></g><g id="k19-4"><use href="#Br" x="240"/></g><g id="k19-5"><use href="#Yr" x="292"/></g><g id="k19-6"><use href="#Yr" x="344"/></g><g id="k19-7"><use href="#Rr" x="396"/></g><g id="k19-8"><use href="#Rr" x="448"/></g><g id="k19-9"><use href="#Rr" x="500"/></g><g id="k19-10"><use href="#Rr" x="552"/></g><g id="k19-11"><use href="#Yr" x="604"/></g><g id="k19-12"><use href="#Yr" x="656"/></g></g>
<g transform="translate(0,1050)"><g id="k20-1"><use href="#Yl" x="84"/></g><g id="k20-2"><use href="#Bl" x="136"/></g><g id="k20-3"><use href="#Bl" x="188"/></g><g id="k20-4"><use href="#Bl" x="240"/></g><g id="k20-5"><use href="#Yl" x="292"/></g><g id="k20-6"><use href="#Yl" x="344"/></g><g id="k20-7"><use href="#Rl" x="396"/></g><g id="k20-8"><use href="#Rl" x="448"/></g><g id="k20-9"><use href="#Rl" x="500"/></g><g id="k20-10"><use href="#Yl" x="552"/></g><g id="k20-11"><use href="#Yl" x="604"/></g><g id="k20-12"><use href="#Yl" x="656"/></g></g>
<g transform="translate(0,1102)"><g id="k21-1"><use href="#Yr" x="84"/></g><g id="k21-2"><use href="#Br" x="136"/></g><g id="k21-3"><use href="#Br" x="188"/></g><g id="k21-4"><use href="#Br" x="240"/></g><g id="k21-5"><use href="#Yr" x="292"/></g><g id="k21-6"><use href="#Yr" x="344"/></g><g id="k21-7"><use href="#Rr" x="396"/></g><g id="k21-8"><use href="#Rr" x="448"/></g><g id="k21-9"><use href="#Rr" x="500"/></g><g id="k21-10"><use href="#Yr" x="552"/></g><g id="k21-11"><use href="#Yr" x="604"/></g><g id="k21-12"><use href="#Yr" x="656"/></g></g>
<g transform="translate(0,1154)"><g id="k22-1"><use href="#Yl" x="84"/></g><g id="k22-2"><use href="#Yl" x="136"/></g><g id="k22-3"><use href="#Bl" x="188"/></g><g id="k22-4"><use href="#Bl" x="240"/></g><g id="k22-5"><use href="#Yl" x="292"/></g><g id="k22-6"><use href="#Yl" x="344"/></g><g id="k22-7"><use href="#Yl" x="396"/></g><g id="k22-8"><use href="#Rl" x="448"/></g><g id="k22-9"><use href="#Yl" x="500"/></g><g id="k22-10"><use href="#Yl" x="552"/></g><g id="k22-11"><use href="#Yl" x="604"/></g><g id="k22-12"><use href="#Yl" x="656"/></g></g>
<g transform="translate(0,1206)"><g id="k23-1"><use href="#Yr" x="84"/></g><g id="k23-2"><use href="#Yr" x="136"/></g><g id="k23-3"><use href="#Br" x="188"/></g><g id="k23-4"><use href="#Br" x="240"/></g><g id="k23-5"><use href="#Yr" x="292"/></g><g id="k23-6"><use href="#Yr" x="344"/></g><g id="k23-7"><use href="#Yr" x="396"/></g><g id="k23-8"><use href="#Yr" x="448"/></g><g id="k23-9"><use href="#Yr" x="500"/></g><g id="k23-10"><use href="#Yr" x="552"/></g><g id="k23-11"><use href="#Yr" x="604"/></g><g id="k23-12"><use href="#Yr" x="656"/></g></g>
<g transform="translate(0,1258)"><g id="k24-1"><use href="#Yl" x="84"/></g><g id="k24-2"><use href="#Yl" x="136"/></g><g id="k24-3"><use href="#Yl" x="188"/></g><g id="k24-4"><use href="#Yl" x="240"/></g><g id="k24-5"><use href="#Yl" x="292"/></g><g id="k24-6"><use href="#Yl" x="344"/></g><g id="k24-7"><use href="#Yl" x="396"/></g><g id="k24-8"><use href="#Yl" x="448"/></g><g id="k24-9"><use href="#Yl" x="500"/></g><g id="k24-10"><use href="#Yl" x="552"/></g><g id="k24-11"><use href="#Yl" x="604"/></g><g id="k24-12"><use href="#Yl" x="656"/></g></g>
<g transform="translate(0,1310)"><g id="k25-1"><use href="#Lr" x="84"/></g><g id="k25-2"><use href="#Lr" x="136"/></g><g id="k25-3"><use href="#Lr" x="188"/></g><g id="k25-4"><use href="#Lr" x="240"/></g><g id="k25-5"><use href="#Lr" x="292"/></g><g id="k25-6"><use href="#Wr" x="344"/></g><g id="k25-7"><use href="#Wr" x="396"/></g><g id="k25-8"><use href="#Wr" x="448"/></g><g id="k25-9"><use href="#Wr" x="500"/></g><g id="k25-10"><use href="#Lr" x="552"/></g><g id="k25-11"><use href="#Lr" x="604"/></g><g id="k25-12"><use href="#Lr" x="656"/></g></g>
<g transform="translate(0,1362)"><g id="k26-1"><use href="#Ll" x="84"/></g><g id="k26-2"><use href="#Ll" x="136"/></g><g id="k26-3"><use href="#Ll" x="188"/></g><g id="k26-4"><use href="#Ll" x="240"/></g><g id="k26-5"><use href="#Ll" x="292"/></g><g id="k26-6"><use href="#Wl" x="344"/></g><g id="k26-7"><use href="#Wl" x="396"/></g><g id="k26-8"><use href="#Wl" x="448"/></g><g id="k26-9"><use href="#Ll" x="500"/></g><g id="k26-10"><use href="#Ll" x="552"/></g><g id="k26-11"><use href="#Ll" x="604"/></g><g id="k26-12"><use href="#Ll" x="656"/></g></g>
<g transform="translate(0,1414)"><g id="k27-1"><use href="#Lr" x="84"/></g><g id="k27-2"><use href="#Lr" x="136"/></g><g id="k27-3"><use href="#Lr" x="188"/></g><g id="k27-4"><use href="#Lr" x="240"/></g><g id="k27-5"><use href="#Lr" x="292"/></g><g id="k27-6"><use href="#Wr" x="344"/></g><g id="k27-7"><use href="#Wr" x="396"/></g><g id="k27-8"><use href="#Wr" x="448"/></g><g id="k27-9"><use href="#Lr" x="500"/></g><g id="k27-10"><use href="#Lr" x="552"/></g><g id="k27-11"><use href="#Lr" x="604"/></g><g id="k27-12"><use href="#Lr" x="656"/></g></g>
<g transform="translate(0,1466)"><g id="k28-1"><use href="#Ll" x="84"/></g><g id="k28-2"><use href="#Ll" x="136"/></g><g id="k28-3"><use href="#Ll" x="188"/></g><g id="k28-4"><use href="#Ll" x="240"/></g><g id="k28-5"><use href="#Ll" x="292"/></g><g id="k28-6"><use href="#Ll" x="344"/></g><g id="k28-7"><use href="#Wl" x="396"/></g><g id="k28-8"><use href="#Ll" x="448"/></g><g id="k28-9"><use href="#Ll" x="500"/></g><g id="k28-10"><use href="#Ll" x="552"/></g><g id="k28-11"><use href="#Ll" x="604"/></g><g id="k28-12"><use href="#Ll" x="656"/></g></g>
<g transform="translate(0,1518)"><g id="k29-1"><use href="#Lr" x="84"/></g><g id="k29-2"><use href="#Lr" x="136"/></g><g id="k29-3"><use href="#Wr" x="188"/></g><g id="k29-4"><use href="#Lr" x="240"/></g><g id="k29-5"><use href="#Lr" x="292"/></g><g id="k29-6"><use href="#Lr" x="344"/></g><g id="k29-7"><use href="#Lr" x="396"/></g><g id="k29-8"><use href="#Lr" x="448"/></g><g id="k29-9"><use href="#Lr" x="500"/></g><g id="k29-10"><use href="#Lr" x="552"/></g><g id="k29-11"><use href="#Lr" x="604"/></g><g id="k29-12"><use href="#Lr" x="656"/></g></g>
<g transform="translate(0,1570)"><g id="k30-1"><use href="#Ll" x="84"/></g><g id="k30-2"><use href="#Ll" x="136"/></g><g id="k30-3"><use href="#Wl" x="188"/></g><g id="k30-4"><use href="#Wl" x="240"/></g><g id="k30-5"><use href="#Ll" x="292"/></g><g id="k30-6"><use href="#Ll" x="344"/></g><g id="k30-7"><use href="#Ll" x="396"/></g><g id="k30-8"><use href="#Ll" x="448"/></g><g id="k30-9"><use href="#Ll" x="500"/></g><g id="k30-10"><use href="#Ll" x="552"/></g><g id="k30-11"><use href="#Ll" x="604"/></g><g id="k30-12"><use href="#Ll" x="656"/></g></g>
<g transform="translate(0,1622)"><g id="k31-1"><use href="#Lr" x="84"/></g><g id="k31-2"><use href="#Lr" x="136"/></g><g id="k31-3"><use href="#Wr" x="188"/></g><g id="k31-4"><use href="#Wr" x="240"/></g><g id="k31-5"><use href="#Wr" x="292"/></g><g id="k31-6"><use href="#Wr" x="344"/></g><g id="k31-7"><use href="#Lr" x="396"/></g><g id="k31-8"><use href="#Lr" x="448"/></g><g id="k31-9"><use href="#Lr" x="500"/></g><g id="k31-10"><use href="#Wr" x="552"/></g><g id="k31-11"><use href="#Lr" x="604"/></g><g id="k31-12"><use href="#Lr" x="656"/></g></g>
<g transform="translate(0,1674)"><g id="k32-1"><use href="#Ll" x="84"/></g><g id="k32-2"><use href="#Ll" x="136"/></g><g id="k32-3"><use href="#Wl" x="188"/></g><g id="k32-4"><use href="#Wl" x="240"/></g><g id="k32-5"><use href="#Wl" x="292"/></g><g id="k32-6"><use href="#Wl" x="344"/></g><g id="k32-7"><use href="#Ll" x="396"/></g><g id="k32-8"><use href="#Ll" x="448"/></g><g id="k32-9"><use href="#Ll" x="500"/></g><g id="k32-10"><use href="#Wl" x="552"/></g><g id="k32-11"><use href="#Wl" x="604"/></g><g id="k32-12"><use href="#Ll" x="656"/></g></g>
<g transform="translate(0,1726)"><g id="k33-1"><use href="#Lr" x="84"/></g><g id="k33-2"><use href="#Lr" x="136"/></g><g id="k33-3"><use href="#Wr" x="188"/></g><g id="k33-4"><use href="#Wr" x="240"/></g><g id="k33-5"><use href="#Wr" x="292"/></g><g id="k33-6"><use href="#Lr" x="344"/></g><g id="k33-7"><use href="#Lr" x="396"/></g><g id="k33-8"><use href="#Lr" x="448"/></g><g id="k33-9"><use href="#Lr" x="500"/></g><g id="k33-10"><use href="#Wr" x="552"/></g><g id="k33-11"><use href="#Wr" x="604"/></g><g id="k33-12"><use href="#Wr" x="656"/></g></g>
<g transform="translate(0,1778)"><g id="k34-1"><use href="#Ll" x="84"/></g><g id="k34-2"><use href="#Ll" x="136"/></g><g id="k34-3"><use href="#Wl" x="188"/></g><g id="k34-4"><use href="#Wl" x="240"/></g><g id="k34-5"><use href="#Ll" x="292"/></g><g id="k34-6"><use href="#Ll" x="344"/></g><g id="k34-7"><use href="#Ll" x="396"/></g><g id="k34-8"><use href="#Ll" x="448"/></g><g id="k34-9"><use href="#Ll" x="500"/></g><g id="k34-10"><use href="#Wl" x="552"/></g><g id="k34-11"><use href="#Wl" x="604"/></g><g id="k34-12"><use href="#Wl" x="656"/></g></g>
<g transform="translate(0,1830)"><g id="k35-1"><use href="#Lr" x="84"/></g><g id="k35-2"><use href="#Lr" x="136"/></g><g id="k35-3"><use href="#Wr" x="188"/></g><g id="k35-4"><use href="#Wr" x="240"/></g><g id="k35-5"><use href="#Lr" x="292"/></g><g id="k35-6"><use href="#Lr" x="344"/></g><g id="k35-7"><use href="#Lr" x="396"/></g><g id="k35-8"><use href="#Lr" x="448"/></g><g id="k35-9"><use href="#Lr" x="500"/></g><g id="k35-10"><use href="#Wr" x="552"/></g><g id="k35-11"><use href="#Wr" x="604"/></g><g id="k35-12"><use href="#Wr" x="656"/></g></g>
<g transform="translate(0,1882)"><g id="k36-1"><use href="#Ll" x="84"/></g><g id="k36-2"><use href="#Ll" x="136"/></g><g id="k36-3"><use href="#Wl" x="188"/></g><g id="k36-4"><use href="#Ll" x="240"/></g><g id="k36-5"><use href="#Ll" x="292"/></g><g id="k36-6"><use href="#Ll" x="344"/></g><g id="k36-7"><use href="#Ll" x="396"/></g><g id="k36-8"><use href="#Ll" x="448"/></g><g id="k36-9"><use href="#Ll" x="500"/></g><g id="k36-10"><use href="#Wl" x="552"/></g><g id="k36-11"><use href="#Wl" x="604"/></g><g id="k36-12"><use href="#Ll" x="656"/></g></g>
<g transform="translate(0,1934)"><g id="k37-1"><use href="#Yr" x="84"/></g><g id="k37-2"><use href="#Yr" x="136"/></g><g id="k37-3"><use href="#Yr" x="188"/></g><g id="k37-4"><use href="#Yr" x="240"/></g><g id="k37-5"><use href="#Br" x="292"/></g><g id="k37-6"><use href="#Yr" x="344"/></g><g id="k37-7"><use href="#Yr" x="396"/></g><g id="k37-8"><use href="#Yr" x="448"/></g><g id="k37-9"><use href="#Yr" x="500"/></g><g id="k37-10"><use href="#Yr" x="552"/></g><g id="k37-11"><use href="#Yr" x="604"/></g><g id="k37-12"><use href="#Yr" x="656"/></g></g>
<g transform="translate(0,1986)"><g id="k38-1"><use href="#Yl" x="84"/></g><g id="k38-2"><use href="#Yl" x="136"/></g><g id="k38-3"><use href="#Yl" x="188"/></g><g id="k38-4"><use href="#Bl" x="240"/></g><g id="k38-5"><use href="#Bl" x="292"/></g><g id="k38-6"><use href="#Yl" x="344"/></g><g id="k38-7"><use href="#Yl" x="396"/></g><g id="k38-8"><use href="#Yl" x="448"/></g><g id="k38-9"><use href="#Yl" x="500"/></g><g id="k38-10"><use href="#Yl" x="552"/></g><g id="k38-11"><use href="#Yl" x="604"/></g><g id="k38-12"><use href="#Yl" x="656"/></g></g>
<g transform="translate(0,2038)"><g id="k39-1"><use href="#Yr" x="84"/></g><g id="k39-2"><use href="#Yr" x="136"/></g><g id="k39-3"><use href="#Br" x="188"/></g><g id="k39-4"><use href="#Br" x="240"/></g><g id="k39-5"><use href="#Yr" x="292"/></g><g id="k39-6"><use href="#Yr" x="344"/></g><g id="k39-7"><use href="#Yr" x="396"/></g><g id="k39-8"><use href="#Br" x="448"/></g><g id="k39-9"><use href="#Yr" x="500"/></g><g id="k39-10"><use href="#Yr" x="552"/></g><g id="k39-11"><use href="#Yr" x="604"/></g><g id="k39-12"><use href="#Yr" x="656"/></g></g>
<g transform="translate(0,2090)"><g id="k40-1"><use href="#Yl" x="84"/></g><g id="k40-2"><use href="#Yl" x="136"/></g><g id="k40-3"><use href="#Bl" x="188"/></g><g id="k40-4"><use href="#Yl" x="240"/></g><g id="k40-5"><use href="#Yl" x="292"/></g><g id="k40-6"><use href="#Yl" x="344"/></g><g id="k40-7"><use href="#Yl" x="396"/></g><g id="k40-8"><use href="#Bl" x="448"/></g><g id="k40-9"><use href="#Yl" x="500"/></g><g id="k40-10"><use href="#Yl" x="552"/></g><g id="k40-11"><use href="#Yl" x="604"/></g><g id="k40-12"><use href="#Yl" x="656"/></g></g>
<g transform="translate(0,2142)"><g id="k41-1"><use href="#Yr" x="84"/></g><g id="k41-2"><use href="#Br" x="136"/></g><g id="k41-3"><use href="#Br" x="188"/></g><g id="k41-4"><use href="#Yr" x="240"/></g><g id="k41-5"><use href="#Yr" x="292"/></g><g id="k41-6"><use href="#Yr" x="344"/></g><g id="k41-7"><use href="#Yr" x="396"/></g><g id="k41-8"><use href="#Br" x="448"/></g><g id="k41-9"><use href="#Yr" x="500"/></g><g id="k41-10"><use href="#Yr" x="552"/></g><g id="k41-11"><use href="#Br" x="604"/></g><g id="k41-12"><use href="#Yr" x="656"/></g></g>
<g transform="translate(0,2194)"><g id="k42-1"><use href="#Yl" x="84"/></g><g id="k42-2"><use href="#Bl" x="136"/></g><g id="k42-3"><use href="#Bl" x="188"/></g><g id="k42-4"><use href="#Bl" x="240"/></g><g id="k42-5"><use href="#Bl" x="292"/></g><g id="k42-6"><use href="#Bl" x="344"/></g><g id="k42-7"><use href="#Bl" x="396"/></g><g id="k42-8"><use href="#Bl" x="448"/></g><g id="k42-9"><use href="#Bl" x="500"/></g><g id="k42-10"><use href="#Bl" x="552"/></g><g id="k42-11"><use href="#Bl" x="604"/></g><g id="k42-12"><use href="#Bl" x="656"/></g></g>
<g transform="translate(0,2246)"><g id="k43-1"><use href="#Yr" x="84"/></g><g id="k43-2"><use href="#Br" x="136"/></g><g id="k43-3"><use href="#Br" x="188"/></g><g id="k43-4"><use href="#Br" x="240"/></g><g id="k43-5"><use href="#Br" x="292"/></g><g id="k43-6"><use href="#Br" x="344"/></g><g id="k43-7"><use href="#Br" x="396"/></g><g id="k43-8"><use href="#Br" x="448"/></g><g id="k43-9"><use href="#Br" x="500"/></g><g id="k43-10"><use href="#Br" x="552"/></g><g id="k43-11"><use href="#Br" x="604"/></g><g id="k43-12"><use href="#Br" x="656"/></g></g>
<g transform="translate(0,2298)"><g id="k44-1"><use href="#Yl" x="84"/></g><g id="k44-2"><use href="#Bl" x="136"/></g><g id="k44-3"><use href="#Bl" x="188"/></g><g id="k44-4"><use href="#Yl" x="240"/></g><g id="k44-5"><use href="#Yl" x="292"/></g><g id="k44-6"><use href="#Yl" x="344"/></g><g id="k44-7"><use href="#Yl" x="396"/></g><g id="k44-8"><use href="#Bl" x="448"/></g><g id="k44-9"><use href="#Yl" x="500"/></g><g id="k44-10"><use href="#Yl" x="552"/></g><g id="k44-11"><use href="#Bl" x="604"/></g><g id="k44-12"><use href="#Yl" x="656"/></g></g>
<g transform="translate(0,2350)"><g id="k45-1"><use href="#Yr" x="84"/></g><g id="k45-2"><use href="#Yr" x="136"/></g><g id="k45-3"><use href="#Br" x="188"/></g><g id="k45-4"><use href="#Yr" x="240"/></g><g id="k45-5"><use href="#Yr" x="292"/></g><g id="k45-6"><use href="#Yr" x="344"/></g><g id="k45-7"><use href="#Yr" x="396"/></g><g id="k45-8"><use href="#Br" x="448"/></g><g id="k45-9"><use href="#Yr" x="500"/></g><g id="k45-10"><use href="#Yr" x="552"/></g><g id="k45-11"><use href="#Yr" x="604"/></g><g id="k45-12"><use href="#Yr" x="656"/></g></g>
<g transform="translate(0,2402)"><g id="k46-1"><use href="#Yl" x="84"/></g><g id="k46-2"><use href="#Yl" x="136"/></g><g id="k46-3"><use href="#Bl" x="188"/></g><g id="k46-4"><use href="#Bl" x="240"/></g><g id="k46-5"><use href="#Yl" x="292"/></g><g id="k46-6"><use href="#Yl" x="344"/></g><g id="k46-7"><use href="#Yl" x="396"/></g><g id="k46-8"><use href="#Bl" x="448"/></g><g id="k46-9"><use href="#Yl" x="500"/></g><g id="k46-10"><use href="#Yl" x="552"/></g><g id="k46-11"><use href="#Yl" x="604"/></g><g id="k46-12"><use href="#Yl" x="656"/></g></g>
<g transform="translate(0,2454)"><g id="k47-1"><use href="#Yr" x="84"/></g><g id="k47-2"><use href="#Yr" x="136"/></g><g id="k47-3"><use href="#Yr" x="188"/></g><g id="k47-4"><use href="#Br" x="240"/></g><g id="k47-5"><use href="#Br" x="292"/></g><g id="k47-6"><use href="#Yr" x="344"/></g><g id="k47-7"><use href="#Yr" x="396"/></g><g id="k47-8"><use href="#Yr" x="448"/></g><g id="k47-9"><use href="#Yr" x="500"/></g><g id="k47-10"><use href="#Yr" x="552"/></g><g id="k47-11"><use href="#Yr" x="604"/></g><g id="k47-12"><use href="#Yr" x="656"/></g></g>
<g transform="translate(0,2506)"><g id="k48-1"><use href="#Yl" x="84"/></g><g id="k48-2"><use href="#Yl" x="136"/></g><g id="k48-3"><use href="#Yl" x="188"/></g><g id="k48-4"><use href="#Yl" x="240"/></g><g id="k48-5"><use href="#Bl" x="292"/></g><g id="k48-6"><use href="#Yl" x="344"/></g><g id="k48-7"><use href="#Yl" x="396"/></g><g id="k48-8"><use href="#Yl" x="448"/></g><g id="k48-9"><use href="#Yl" x="500"/></g><g id="k48-10"><use href="#Yl" x="552"/></g><g id="k48-11"><use href="#Yl" x="604"/></g><g id="k48-12"><use href="#Yl" x="656"/></g></g>
<g transform="translate(0,2558)"><g id="k49-1"><use href="#Wr" x="84"/></g><g id="k49-2"><use href="#Wr" x="136"/></g><g id="k49-3"><use href="#Wr" x="188"/></g><g id="k49-4"><use href="#Wr" x="240"/></g><g id="k49-5"><use href="#Wr" x="292"/></g><g id="k49-6"><use href="#Wr" x="344"/></g><g id="k49-7"><use href="#Wr" x="396"/></g><g id="k49-8"><use href="#Wr" x="448"/></g><g id="k49-9"><use href="#Wr" x="500"/></g><g id="k49-10"><use href="#Wr" x="552"/></g><g id="k49-11"><use href="#Wr" x="604"/></g><g id="k49-12"><use href="#Wr" x="656"/></g></g>
<g transform="translate(0,2610)"><g id="k50-1"><use href="#Rl" x="84"/></g><g id="k50-2"><use href="#Rl" x="136"/></g><g id="k50-3"><use href="#Rl" x="188"/></g><g id="k50-4"><use href="#Rl" x="240"/></g><g id="k50-5"><use href="#Rl" x="292"/></g><g id="k50-6"><use href="#Rl" x="344"/></g><g id="k50-7"><use href="#Rl" x="396"/></g><g id="k50-8"><use href="#Rl" x="448"/></g><g id="k50-9"><use href="#Rl" x="500"/></g><g id="k50-10"><use href="#Rl" x="552"/></g><g id="k50-11"><use href="#Rl" x="604"/></g><g id="k50-12"><use href="#Rl" x="656"/></g></g>
<g transform="translate(0,2662)"><g id="k51-1"><use href="#Rr" x="84"/></g><g id="k51-2"><use href="#Rr" x="136"/></g><g id="k51-3"><use href="#Rr" x="188"/></g><g id="k51-4"><use href="#Rr" x="240"/></g><g id="k51-5"><use href="#Rr" x="292"/></g><g id="k51-6"><use href="#Rr" x="344"/></g><g id="k51-7"><use href="#Rr" x="396"/></g><g id="k51-8"><use href="#Rr" x="448"/></g><g id="k51-9"><use href="#Rr" x="500"/></g><g id="k51-10"><use href="#Rr" x="552"/></g><g id="k51-11"><use href="#Rr" x="604"/></g><g id="k51-12"><use href="#Rr" x="656"/></g></g>
<g transform="translate(0,2714)"><g id="k52-1"><use href="#Wl" x="84"/></g><g id="k52-2"><use href="#Wl" x="136"/></g><g id="k52-3"><use href="#Wl" x="188"/></g><g id="k52-4"><use href="#Wl" x="240"/></g><g id="k52-5"><use href="#Wl" x="292"/></g><g id="k52-6"><use href="#Wl" x="344"/></g><g id="k52-7"><use href="#Wl" x="396"/></g><g id="k52-8"><use href="#Wl" x="448"/></g><g id="k52-9"><use href="#Wl" x="500"/></g><g id="k52-10"><use href="#Wl" x="552"/></g><g id="k52-11"><use href="#Wl" x="604"/></g><g id="k52-12"><use href="#Wl" x="656"/></g></g>
<g transform="translate(0,2766)"><g id="k53-1"><use href="#Wr" x="84"/></g><g id="k53-2"><use href="#Wr" x="136"/></g><g id="k53-3"><use href="#Wr" x="188"/></g><g id="k53-4"><use href="#Wr" x="240"/></g><g id="k53-5"><use href="#Wr" x="292"/></g><g id="k53-6"><use href="#Wr" x="344"/></g><g id="k53-7"><use href="#Wr" x="396"/></g><g id="k53-8"><use href="#Wr" x="448"/></g><g id="k53-9"><use href="#Wr" x="500"/></g><g id="k53-10"><use href="#Wr" x="552"/></g><g id="k53-11"><use href="#Wr" x="604"/></g><g id="k53-12"><use href="#Wr" x="656"/></g></g>
<g transform="translate(0,2818)"><g id="k54-1"><use href="#Rl" x="84"/></g><g id="k54-2"><use href="#Rl" x="136"/></g><g id="k54-3"><use href="#Rl" x="188"/></g><g id="k54-4"><use href="#Rl" x="240"/></g><g id="k54-5"><use href="#Rl" x="292"/></g><g id="k54-6"><use href="#Rl" x="344"/></g><g id="k54-7"><use href="#Rl" x="396"/></g><g id="k54-8"><use href="#Rl" x="448"/></g><g id="k54-9"><use href="#Rl" x="500"/></g><g id="k54-10"><use href="#Rl" x="552"/></g><g id="k54-11"><use href="#Rl" x="604"/></g><g id="k54-12"><use href="#Rl" x="656"/></g></g>
<g transform="translate(0,2870)"><g id="k55-1"><use href="#Rr" x="84"/></g><g id="k55-2"><use href="#Rr" x="136"/></g><g id="k55-3"><use href="#Rr" x="188"/></g><g id="k55-4"><use href="#Rr" x="240"/></g><g id="k55-5"><use href="#Rr" x="292"/></g><g id="k55-6"><use href="#Rr" x="344"/></g><g id="k55-7"><use href="#Rr" x="396"/></g><g id="k55-8"><use href="#Rr" x="448"/></g><g id="k55-9"><use href="#Rr" x="500"/></g><g id="k55-10"><use href="#Rr" x="552"/></g><g id="k55-11"><use href="#Rr" x="604"/></g><g id="k55-12"><use href="#Rr" x="656"/></g></g>
<g transform="translate(0,2922)"><g id="k56-1"><use href="#Wl" x="84"/></g><g id="k56-2"><use href="#Wl" x="136"/></g><g id="k56-3"><use href="#Wl" x="188"/></g><g id="k56-4"><use href="#Wl" x="240"/></g><g id="k56-5"><use href="#Wl" x="292"/></g><g id="k56-6"><use href="#Wl" x="344"/></g><g id="k56-7"><use href="#Wl" x="396"/></g><g id="k56-8"><use href="#Wl" x="448"/></g><g id="k56-9"><use href="#Wl" x="500"/></g><g id="k56-10"><use href="#Wl" x="552"/></g><g id="k56-11"><use href="#Wl" x="604"/></g><g id="k56-12"><use href="#Wl" x="656"/></g></g>
<g transform="translate(0,2974)"><g id="k57-1"><use href="#Wr" x="84"/></g><g id="k57-2"><use href="#Wr" x="136"/></g><g id="k57-3"><use href="#Wr" x="188"/></g><g id="k57-4"><use href="#Wr" x="240"/></g><g id="k57-5"><use href="#Wr" x="292"/></g><g id="k57-6"><use href="#Wr" x="344"/></g><g id="k57-7"><use href="#Wr" x="396"/></g><g id="k57-8"><use href="#Wr" x="448"/></g><g id="k57-9"><use href="#Wr" x="500"/></g><g id="k57-10"><use href="#Wr" x="552"/></g><g id="k57-11"><use href="#Wr" x="604"/></g><g id="k57-12"><use href="#Wr" x="656"/></g></g>
<g transform="translate(0,3026)"><g id="k58-1"><use href="#Rl" x="84"/></g><g id="k58-2"><use href="#Rl" x="136"/></g><g id="k58-3"><use href="#Rl" x="188"/></g><g id="k58-4"><use href="#Rl" x="240"/></g><g id="k58-5"><use href="#Rl" x="292"/></g><g id="k58-6"><use href="#Rl" x="344"/></g><g id="k58-7"><use href="#Rl" x="396"/></g><g id="k58-8"><use href="#Rl" x="448"/></g><g id="k58-9"><use href="#Rl" x="500"/></g><g id="k58-10"><use href="#Rl" x="552"/></g><g id="k58-11"><use href="#Rl" x="604"/></g><g id="k58-12"><use href="#Rl" x="656"/></g></g>
<g transform="translate(0,3078)"><g id="k59-1"><use href="#Rr" x="84"/></g><g id="k59-2"><use href="#Rr" x="136"/></g><g id="k59-3"><use href="#Rr" x="188"/></g><g id="k59-4"><use href="#Rr" x="240"/></g><g id="k59-5"><use href="#Rr" x="292"/></g><g id="k59-6"><use href="#Rr" x="344"/></g><g id="k59-7"><use href="#Rr" x="396"/></g><g id="k59-8"><use href="#Rr" x="448"/></g><g id="k59-9"><use href="#Rr" x="500"/></g><g id="k59-10"><use href="#Rr" x="552"/></g><g id="k59-11"><use href="#Rr" x="604"/></g><g id="k59-12"><use href="#Rr" x="656"/></g></g>
<g transform="translate(0,3130)"><g id="k60-1"><use href="#Wl" x="84"/></g><g id="k60-2"><use href="#Wl" x="136"/></g><g id="k60-3"><use href="#Wl" x="188"/></g><g id="k60-4"><use href="#Wl" x="240"/></g><g id="k60-5"><use href="#Wl" x="292"/></g><g id="k60-6"><use href="#Wl" x="344"/></g><g id="k60-7"><use href="#Wl" x="396"/></g><g id="k60-8"><use href="#Wl" x="448"/></g><g id="k60-9"><use href="#Wl" x="500"/></g><g id="k60-10"><use href="#Wl" x="552"/></g><g id="k60-11"><use href="#Wl" x="604"/></g><g id="k60-12"><use href="#Wl" x="656"/></g></g>
</g>
<text id="watermark" x="370" y="1601" text-anchor="middle" font-family="'Liberation Sans',Arial,sans-serif" font-size="15" font-weight="bold" fill="#444" textLength="154" lengthAdjust="spacingAndGlyphs">BRACELETBOOK.COM</text>
</svg>
